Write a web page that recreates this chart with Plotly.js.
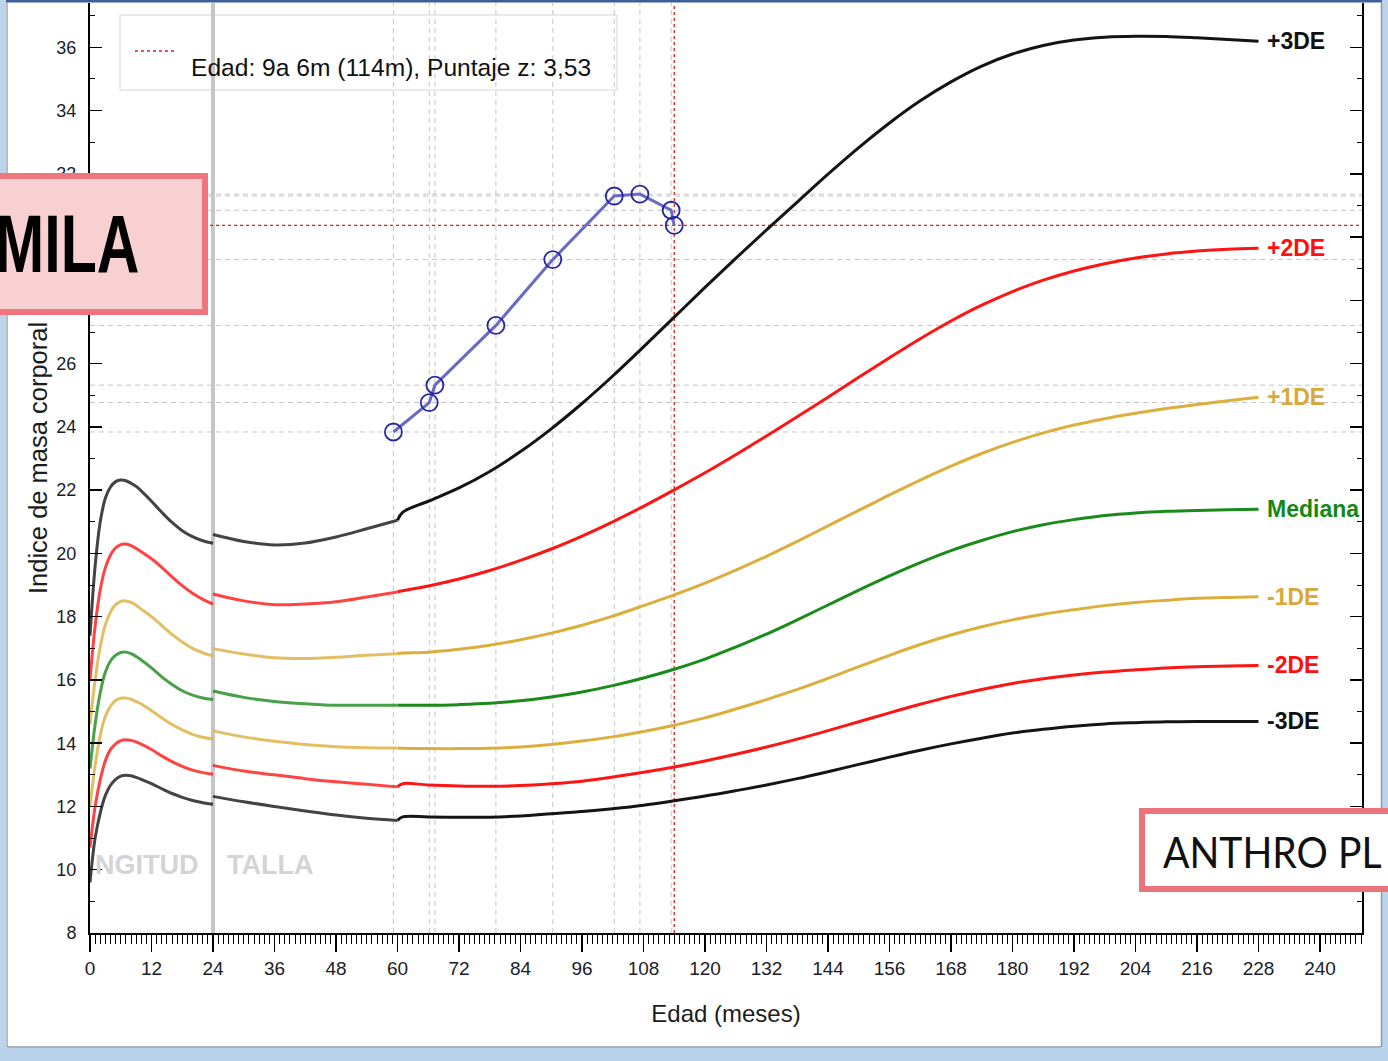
<!DOCTYPE html>
<html><head><meta charset="utf-8">
<script src="https://cdn.plot.ly/plotly-3.0.1.min.js"></script>
<style>html,body{margin:0;padding:0;background:#fff;overflow:hidden}#chart{width:1388px;height:1061px}</style>
</head><body><div id="chart"></div>
<script>
// ---------- DATA ----------
const months_len = [0,1,2,3,4,5,6,7,8,9,10,12,14,16,18,20,22,24];
const months_hgt = [24,30,36,42,48,54,60];
const months_ref = [60,61,66,72,78,84,90,96,102,108,114,120,126,132,138,144,150,156,162,168,174,180,186,192,198,204,210,216,222,228];

const p3_len = [17.4,19.6,21.0,21.75,22.1,22.27,22.32,22.3,22.22,22.12,21.98,21.65,21.3,20.98,20.72,20.53,20.4,20.32];
const p3_hgt = [20.6,20.38,20.27,20.33,20.52,20.78,21.05];
const p3_ref = [21.05,21.3,21.65,22.07,22.59,23.22,23.94,24.74,25.61,26.53,27.47,28.41,29.33,30.23,31.11,31.99,32.83,33.61,34.31,34.91,35.41,35.79,36.06,36.23,36.32,36.35,36.34,36.3,36.25,36.19];

const p2_len = [16.0,17.7,18.85,19.55,19.95,20.18,20.28,20.3,20.25,20.16,20.05,19.83,19.56,19.26,18.98,18.74,18.55,18.4];
const p2_hgt = [18.72,18.5,18.38,18.4,18.47,18.62,18.78];
const p2_ref = [18.78,18.82,18.97,19.19,19.46,19.78,20.14,20.55,21.0,21.49,22.01,22.55,23.12,23.71,24.32,24.94,25.57,26.19,26.79,27.35,27.85,28.28,28.64,28.93,29.16,29.34,29.47,29.56,29.62,29.65];

const p1_len = [14.6,16.0,17.05,17.75,18.15,18.38,18.48,18.5,18.45,18.36,18.24,18.0,17.72,17.44,17.2,17.0,16.86,16.76];
const p1_hgt = [16.99,16.82,16.7,16.68,16.72,16.78,16.83];
const p1_ref = [16.83,16.85,16.88,16.97,17.1,17.27,17.48,17.73,18.02,18.35,18.69,19.06,19.47,19.91,20.38,20.87,21.36,21.85,22.32,22.76,23.16,23.51,23.81,24.06,24.26,24.43,24.58,24.71,24.83,24.94];

const med_len = [13.2,14.6,15.6,16.25,16.6,16.78,16.87,16.88,16.83,16.74,16.63,16.38,16.1,15.86,15.66,15.52,15.43,15.38];
const med_hgt = [15.65,15.45,15.32,15.25,15.2,15.2,15.2];
const med_ref = [15.2,15.2,15.2,15.22,15.26,15.34,15.46,15.62,15.82,16.06,16.34,16.66,17.04,17.45,17.9,18.37,18.84,19.29,19.71,20.09,20.41,20.69,20.91,21.07,21.2,21.28,21.33,21.36,21.38,21.4];

const m1_len = [12.0,13.3,14.25,14.85,15.17,15.35,15.42,15.43,15.39,15.32,15.24,15.03,14.8,14.59,14.42,14.28,14.19,14.13];
const m1_hgt = [14.39,14.2,14.06,13.96,13.89,13.86,13.85];
const m1_ref = [13.85,13.84,13.83,13.83,13.84,13.88,13.96,14.07,14.2,14.37,14.57,14.8,15.08,15.38,15.7,16.05,16.42,16.78,17.12,17.42,17.68,17.9,18.08,18.22,18.35,18.45,18.52,18.58,18.61,18.63];

const m2_len = [10.7,12.0,12.85,13.45,13.8,13.98,14.08,14.11,14.09,14.04,13.97,13.8,13.6,13.42,13.27,13.15,13.07,13.02];
const m2_hgt = [13.3,13.12,13.0,12.88,12.78,12.7,12.62];
const m2_ref = [12.62,12.72,12.68,12.65,12.64,12.66,12.72,12.8,12.93,13.08,13.25,13.44,13.65,13.88,14.13,14.4,14.68,14.96,15.23,15.48,15.7,15.89,16.04,16.16,16.25,16.32,16.38,16.42,16.44,16.46];

const m3_len = [9.6,11.0,11.8,12.35,12.67,12.86,12.96,12.99,12.97,12.92,12.86,12.72,12.56,12.41,12.29,12.19,12.12,12.07];
const m3_hgt = [12.32,12.15,12.0,11.86,11.73,11.63,11.56];
const m3_ref = [11.56,11.67,11.67,11.66,11.66,11.7,11.77,11.84,11.93,12.04,12.18,12.33,12.5,12.68,12.88,13.1,13.33,13.56,13.78,13.98,14.16,14.32,14.44,14.54,14.61,14.65,14.68,14.69,14.69,14.69];

const curve_labels = ['+3DE','+2DE','+1DE','Mediana','-1DE','-2DE','-3DE'];

const pt_age = [59.2, 66.2, 67.3, 79.2, 90.3, 102.3, 107.3, 113.4, 114];
const pt_bmi = [23.84, 24.77, 25.32, 27.21, 29.29, 31.30, 31.36, 30.85, 30.37];

const legend_text = 'Edad: 9a 6m (114m), Puntaje z: 3,53';
const x_title = 'Edad (meses)';
const y_title = 'Indice de masa corporal';
const zone_left = 'NGITUD';
const zone_right = 'TALLA';
const name_text = 'MILA';
const app_text = 'ANTHRO PL';

// ---------- LAYOUT GEOMETRY ----------
const W = 1388, H = 1061, ML = 90, MR = 26, MT = 3, MB = 128;
const PW = W - ML - MR, PH = H - MT - MB;
const pxPerMonth = 5.125, pxPerUnit = 31.63;
const px = x => (x - ML) / PW;
const py = y => (H - MB - y) / PH;

const FONT = 'Liberation Sans, Arial, sans-serif';
const curves = [
  {len:p3_len, hgt:p3_hgt, ref:p3_ref, color:'#141414', lab:'#111111'},
  {len:p2_len, hgt:p2_hgt, ref:p2_ref, color:'#ff1414', lab:'#ff1010'},
  {len:p1_len, hgt:p1_hgt, ref:p1_ref, color:'#dcae3c', lab:'#d9a838'},
  {len:med_len, hgt:med_hgt, ref:med_ref, color:'#1a8a1a', lab:'#138813'},
  {len:m1_len, hgt:m1_hgt, ref:m1_ref, color:'#dcae3c', lab:'#d9a838'},
  {len:m2_len, hgt:m2_hgt, ref:m2_ref, color:'#ff1414', lab:'#ff1010'},
  {len:m3_len, hgt:m3_hgt, ref:m3_ref, color:'#141414', lab:'#111111'}
];

const traces = [];
curves.forEach(c => {
  [[months_len, c.len, 0.8], [months_hgt, c.hgt, 0.8], [months_ref, c.ref, 1]].forEach(seg => {
    traces.push({x: seg[0], y: seg[1], mode: 'lines', type: 'scatter', opacity: seg[2],
      line: {color: c.color, width: 3, shape: 'spline', smoothing: 1}, hoverinfo: 'skip'});
  });
});
traces.push({x: pt_age, y: pt_bmi, mode: 'lines+markers', type: 'scatter',
  line: {color: '#6a6ac4', width: 3},
  marker: {symbol: 'circle-open', size: 17, color: '#2626a2', line: {width: 1.8}}, hoverinfo: 'skip'});

const shapes = [];
// legend box (behind lines)
shapes.push({type:'rect', xref:'paper', yref:'paper', x0:px(120), x1:px(617), y0:py(90), y1:py(15),
  fillcolor:'#ffffff', line:{color:'#d4d4d4', width:1}, layer:'below'});
// thick grey separator at 24 months
shapes.push({type:'line', xref:'x', yref:'paper', x0:months_hgt[0], x1:months_hgt[0], y0:0, y1:1,
  line:{color:'#c6c6c6', width:4}, layer:'below'});
// dashed guide lines for measurements
const nPts = pt_age.length;
for (let i = 0; i < nPts - 1; i++) {
  shapes.push({type:'line', xref:'x', yref:'paper', x0:pt_age[i], x1:pt_age[i], y0:0, y1:1,
    line:{color:'#c4c4c4', width:1, dash:'5px,4px'}, layer:'below'});
  shapes.push({type:'line', xref:'paper', yref:'y', x0:0, x1:1, y0:pt_bmi[i], y1:pt_bmi[i],
    line:{color:'#c4c4c4', width:1, dash:'5px,4px'}, layer:'below'});
}
shapes.push({type:'line', xref:'x', yref:'paper', x0:pt_age[nPts-1], x1:pt_age[nPts-1], y0:0, y1:1,
  line:{color:'#d82020', width:1.3, dash:'3px,3px'}, layer:'below'});
shapes.push({type:'line', xref:'paper', yref:'y', x0:0, x1:1, y0:pt_bmi[nPts-1], y1:pt_bmi[nPts-1],
  line:{color:'#d82020', width:1.3, dash:'3px,3px'}, layer:'below'});
// legend sample
shapes.push({type:'line', xref:'paper', yref:'paper', x0:px(135), x1:px(175), y0:py(51), y1:py(51),
  line:{color:'#d82020', width:1.3, dash:'3px,3px'}, layer:'above'});
// window frame
shapes.push({type:'rect', xref:'paper', yref:'paper', x0:px(0), x1:px(W), y0:py(2.5), y1:py(0),
  fillcolor:'#3b5f96', line:{width:0}, layer:'above'});
shapes.push({type:'rect', xref:'paper', yref:'paper', x0:px(0), x1:px(6), y0:py(H), y1:py(0),
  fillcolor:'#bcd3ea', line:{width:0}, layer:'above'});
shapes.push({type:'line', xref:'paper', yref:'paper', x0:px(7), x1:px(7), y0:py(1047), y1:py(2),
  line:{color:'#9aa7b5', width:1.5}, layer:'above'});
shapes.push({type:'rect', xref:'paper', yref:'paper', x0:px(1382), x1:px(W), y0:py(H), y1:py(0),
  fillcolor:'#bcd3ea', line:{width:0}, layer:'above'});
shapes.push({type:'line', xref:'paper', yref:'paper', x0:px(1381.5), x1:px(1381.5), y0:py(1047), y1:py(2),
  line:{color:'#8c98a6', width:1.5}, layer:'above'});
shapes.push({type:'rect', xref:'paper', yref:'paper', x0:px(0), x1:px(W), y0:py(H), y1:py(1048),
  fillcolor:'#b8d2ec', line:{width:0}, layer:'above'});
shapes.push({type:'line', xref:'paper', yref:'paper', x0:px(7), x1:px(1381.5), y0:py(1047), y1:py(1047),
  line:{color:'#8c98a6', width:1.5}, layer:'above'});
// name box
shapes.push({type:'rect', xref:'paper', yref:'paper', x0:px(-10), x1:px(205), y0:py(312), y1:py(176),
  fillcolor:'#f8d0d2', line:{color:'#ee747d', width:6}, layer:'above'});
// app box
shapes.push({type:'rect', xref:'paper', yref:'paper', x0:px(1142), x1:px(1400), y0:py(889), y1:py(811),
  fillcolor:'#ffffff', line:{color:'#ec737a', width:6}, layer:'above'});

const annotations = [];
annotations.push({xref:'paper', yref:'paper', x:px(189), y:py(67), xanchor:'left', yanchor:'middle',
  text:legend_text, showarrow:false, font:{family:FONT, size:24.6, color:'#111'}});
curves.forEach((c, i) => {
  annotations.push({xref:'x', yref:'y', x:months_ref[months_ref.length-1] + 1.2, y:c.ref[c.ref.length-1],
    xanchor:'left', yanchor:'middle', text:curve_labels[i], showarrow:false,
    font:{family:FONT, size:23, color:c.lab, weight:'bold'}});
});
annotations.push({xref:'paper', yref:'paper', x:px(201), y:py(865), xanchor:'right', yanchor:'middle',
  text:zone_left, showarrow:false, font:{family:FONT, size:27, color:'#d4d4d4', weight:'bold'}});
annotations.push({xref:'paper', yref:'paper', x:px(225), y:py(865), xanchor:'left', yanchor:'middle',
  text:zone_right, showarrow:false, font:{family:FONT, size:27, color:'#d4d4d4', weight:'bold'}});
annotations.push({xref:'paper', yref:'paper', x:px(141), y:py(243), xanchor:'right', yanchor:'middle',
  text:name_text, showarrow:false, font:{family:FONT, size:82, color:'#000', weight:'bold'}});
annotations.push({xref:'paper', yref:'paper', x:px(1161), y:py(851), xanchor:'left', yanchor:'middle',
  text:app_text, showarrow:false, font:{family:'Lato, Open Sans, sans-serif', size:43, color:'#111'}});
// y axis title placed as rotated text
annotations.push({xref:'paper', yref:'paper', x:px(38), y:py(458), xanchor:'center', yanchor:'middle',
  text:y_title, textangle:-90, showarrow:false, font:{family:FONT, size:25.5, color:'#1c1c1c'}});

const layout = {
  width: W, height: H,
  margin: {l: ML, r: MR, t: MT, b: MB, pad: 0},
  paper_bgcolor: '#ffffff', plot_bgcolor: '#ffffff',
  showlegend: false, hovermode: false,
  xaxis: {range: [0, PW / pxPerMonth], tick0: 0, dtick: 12, ticks: 'outside', ticklen: 17, tickwidth: 1.5,
    tickcolor: '#000', showline: true, linecolor: '#000', linewidth: 2, showgrid: false, zeroline: false,
    minor: {dtick: 1, ticks: 'outside', ticklen: 9, tickwidth: 1, tickcolor: '#000', showgrid: false},
    tickfont: {family: FONT, size: 19, color: '#1c1c28'}, automargin: false,
    title: {text: x_title, font: {family: FONT, size: 24, color: '#1c1c1c'}, standoff: 27}},
  yaxis: {range: [8, 8 + PH / pxPerUnit], tick0: 0, dtick: 2, ticks: 'inside', ticklen: 12, tickwidth: 1.5,
    tickcolor: '#000', showline: true, linecolor: '#000', linewidth: 2, mirror: 'allticks', showgrid: false,
    zeroline: false, minor: {dtick: 1, ticks: 'inside', ticklen: 5, tickwidth: 1, tickcolor: '#000', showgrid: false},
    tickfont: {family: FONT, size: 18, color: '#1c1c28'}, ticklabelstandoff: 8, automargin: false},
  shapes: shapes,
  annotations: annotations
};

function squeeze(txt, sx, side) {
  const el = Array.from(document.querySelectorAll('.annotation-text')).find(e => e.textContent === txt);
  if (!el) return;
  const bb = el.getBBox();
  const ax = side === 'right' ? bb.x + bb.width : bb.x;
  const prev = el.getAttribute('transform') || '';
  el.setAttribute('transform', prev + ' translate(' + ax + ',0) scale(' + sx + ',1) translate(' + (-ax) + ',0)');
}

Plotly.newPlot('chart', traces, layout, {staticPlot: true, displayModeBar: false}).then(() => {
  squeeze(name_text, 0.72, 'right');
  squeeze(app_text, 0.91, 'left');
});
</script></body></html>
